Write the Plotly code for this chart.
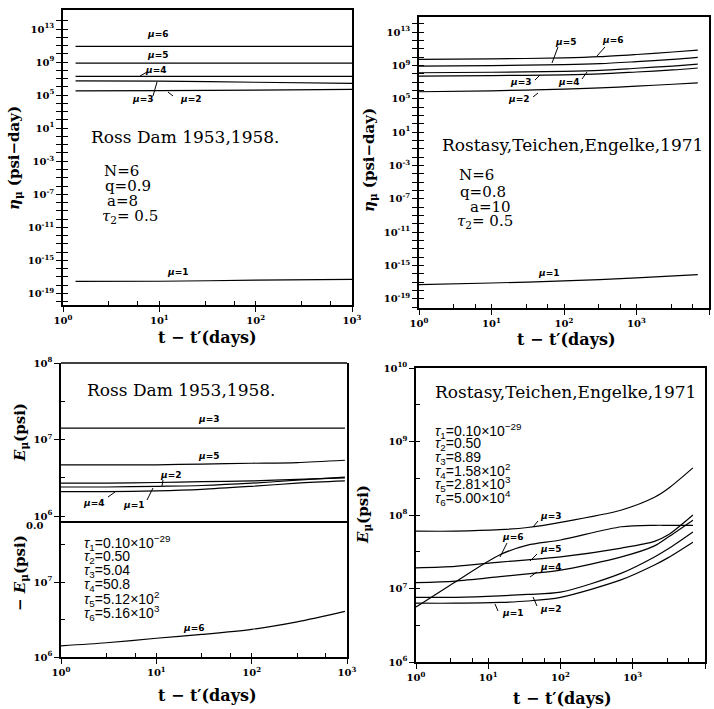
import plotly.graph_objects as go

W, H = 714, 709

# ---------------- DATA ----------------
# Top-left: Ross Dam, eta_mu (psi-day)
tl_t = [1.35, 10, 100, 1000]
tl_eta_mu1 = [2.8e-18, 3.0e-18, 4.0e-18, 5.0e-18]
tl_eta_mu2 = [3.2e5, 3.4e5, 4.0e5, 5.0e5]
tl_eta_mu3 = [5.4e6, 4.8e6, 3.6e6, 2.6e6]
tl_eta_mu4 = [1.9e7, 1.9e7, 1.9e7, 1.9e7]
tl_eta_mu5 = [7.5e8, 7.5e8, 7.5e8, 7.5e8]
tl_eta_mu6 = [8.0e10, 8.0e10, 8.0e10, 8.0e10]

# Top-right: Rostasy, Teichen, Engelke 1971, eta_mu (psi-day)
tr_t = [1, 10, 100, 316, 1000, 3160, 7000]
tr_eta_mu2 = [6.8e5, 8.9e5, 1.4e6, 2.0e6, 3.2e6, 5.4e6, 8.1e6]
tr_eta_mu3 = [5.2e7, 5.9e7, 7.4e7, 9.5e7, 1.6e8, 2.8e8, 4.8e8]
tr_eta_mu4 = [1.3e8, 1.5e8, 1.9e8, 2.5e8, 4.5e8, 8.3e8, 1.4e9]
tr_eta_mu5 = [8.3e8, 9.5e8, 1.2e9, 1.6e9, 2.8e9, 5.2e9, 9.1e9]
tr_eta_mu6 = [5.2e9, 6.0e9, 7.9e9, 1.1e10, 2.0e10, 4.0e10, 6.9e10]
tr_t1 = [1, 10, 100, 1000, 7000]
tr_eta_mu1 = [5.0e-18, 7.9e-18, 1.4e-17, 3.2e-17, 7.9e-17]

# Bottom-left: Ross Dam, E_mu (psi) and -E_mu (psi)
bl_t = [1, 3, 10, 30, 100, 300, 950]
bl_E_mu1 = [2.09e6, 2.09e6, 2.14e6, 2.24e6, 2.45e6, 2.69e6, 2.88e6]
bl_E_mu2 = [2.69e6, 2.69e6, 2.75e6, 2.82e6, 2.88e6, 3.02e6, 3.16e6]
bl_E_mu3 = [1.41e7, 1.41e7, 1.41e7, 1.41e7, 1.41e7, 1.41e7, 1.41e7]
bl_E_mu4 = [2.40e6, 2.40e6, 2.45e6, 2.51e6, 2.69e6, 2.95e6, 3.24e6]
bl_E_mu5 = [4.68e6, 4.68e6, 4.68e6, 4.79e6, 4.90e6, 5.01e6, 5.37e6]
bl_negE_mu6 = [1.41e6, 1.55e6, 1.78e6, 2.0e6, 2.34e6, 2.95e6, 4.07e6]

# Bottom-right: Rostasy, E_mu (psi)
br_t = [1, 3.5, 14.5, 35, 100, 700, 2000, 3100, 6800]
br_E_mu1 = [6.31e6, 6.31e6, 6.46e6, 6.76e6, 7.59e6, 1.32e7, 2.09e7, 2.63e7, 4.27e7]
br_E_mu2 = [7.59e6, 7.59e6, 7.94e6, 8.32e6, 8.91e6, 1.62e7, 2.69e7, 3.47e7, 5.89e7]
br_E_mu3 = [6.03e7, 6.03e7, 6.31e7, 6.76e7, 7.94e7, 1.17e8, 1.74e8, 2.29e8, 4.37e8]
br_E_mu4 = [1.20e7, 1.26e7, 1.45e7, 1.58e7, 1.78e7, 2.69e7, 3.80e7, 5.01e7, 8.51e7]
br_E_mu5 = [1.91e7, 2.00e7, 2.29e7, 2.45e7, 2.69e7, 3.55e7, 4.37e7, 5.37e7, 1.00e8]
br_E_mu6 = [5.6e6, 1.23e7, 2.88e7, 3.89e7, 4.57e7, 6.92e7, 7.24e7, 7.24e7, 7.24e7]

# Tick labels
eta_labels = {-19: "10<sup>-19</sup>", -15: "10<sup>-15</sup>", -11: "10<sup>-11</sup>",
              -7: "10<sup>-7</sup>", -3: "10<sup>-3</sup>", 1: "10<sup>1</sup>",
              5: "10<sup>5</sup>", 9: "10<sup>9</sup>", 13: "10<sup>13</sup>"}
t3_tickvals = [1, 10, 100, 1000]
t3_ticktext = ["10<sup>0</sup>", "10<sup>1</sup>", "10<sup>2</sup>", "10<sup>3</sup>"]
t4_tickvals = [1, 10, 100, 1000, 10000]
t4_ticktext = ["10<sup>0</sup>", "10<sup>1</sup>", "10<sup>2</sup>", "10<sup>3</sup>", "10<sup>4</sup>"]

# ---------------- FIGURE ----------------
def px(x):
    return x / W

def py(y):
    return 1 - y / H

LINE = dict(color="black", width=1.2)
fig = go.Figure()

def add(x, y, xa, ya):
    fig.add_trace(go.Scatter(x=x, y=y, xaxis=xa, yaxis=ya, mode="lines",
                             line=dict(shape="spline", smoothing=0.8, **LINE),
                             showlegend=False, hoverinfo="skip"))

for s in [tl_eta_mu1, tl_eta_mu2, tl_eta_mu3, tl_eta_mu4, tl_eta_mu5, tl_eta_mu6]:
    add(tl_t, s, "x", "y")
for s in [tr_eta_mu2, tr_eta_mu3, tr_eta_mu4, tr_eta_mu5, tr_eta_mu6]:
    add(tr_t, s, "x2", "y2")
add(tr_t1, tr_eta_mu1, "x2", "y2")
for s in [bl_E_mu1, bl_E_mu2, bl_E_mu3, bl_E_mu4, bl_E_mu5]:
    add(bl_t, s, "x3", "y3")
add(bl_t, bl_negE_mu6, "x3", "y4")
for s in [br_E_mu1, br_E_mu2, br_E_mu3, br_E_mu4, br_E_mu5, br_E_mu6]:
    add(br_t, s, "x4", "y5")

# invisible helper traces so that the inside-tick overlay axes are drawn
for xa, ya in [("x5", "y"), ("x", "y6"), ("x6", "y2"), ("x2", "y7"),
               ("x7", "y4"), ("x3", "y8"), ("x3", "y9"), ("x8", "y5"), ("x4", "y10")]:
    fig.add_trace(go.Scatter(x=[1], y=[1], xaxis=xa, yaxis=ya, mode="lines",
                             showlegend=False, hoverinfo="skip", line=dict(width=0)))

TICKFONT = dict(family="DejaVu Serif", size=10, color="black", weight="bold")

def xaxis(dom, rng, tv, tt, anchor):
    return dict(type="log", domain=dom, range=rng, anchor=anchor, automargin=False,
                tickmode="array", tickvals=tv, ticktext=tt, tickfont=TICKFONT,
                ticks="outside", ticklen=5, tickwidth=1.3, tickcolor="black",
                showline=True, linecolor="black", linewidth=1.5, mirror=True,
                showgrid=False, zeroline=False)

def yaxis(dom, rng, tv, tt, anchor):
    return dict(type="log", domain=dom, range=rng, anchor=anchor, automargin=False,
                tickmode="array", tickvals=tv, ticktext=tt, tickfont=TICKFONT,
                ticks="outside", ticklen=5, tickwidth=1.3, tickcolor="black",
                showline=True, linecolor="black", linewidth=1.5, mirror=True,
                showgrid=False, zeroline=False)

def overlay(over, rng, anchor, tv, ln=4):
    return dict(type="log", overlaying=over, range=rng, anchor=anchor, automargin=False,
                tickmode="array", tickvals=tv, showticklabels=False,
                ticks="inside", ticklen=ln, tickwidth=1.1, tickcolor="black",
                showline=False, showgrid=False, zeroline=False)

eta_vals = [10.0 ** k for k in range(-20, 15)]
eta_text = [eta_labels.get(k, "") for k in range(-20, 15)]
xin3 = [1, 3, 6, 10, 30, 60, 100, 300, 600, 1000]
xin4 = xin3 + [3000, 6000, 10000]
half_dec = [10.0 ** (k / 2) for k in range(10, 21)]

R_TL = [-20.4, 15.3]
R_TR = [-20.1, 14.8]
R_BLU = [5.91, 8.0]
R_BLL = [6.0, 7.79]
R_BR = [6.0, 10.0]

fig.update_layout(
    width=W, height=H, margin=dict(l=0, r=0, t=0, b=0),
    paper_bgcolor="white", plot_bgcolor="white",
    xaxis=xaxis([px(63), px(352)], [0, 3], t3_tickvals, t3_ticktext, "y"),
    yaxis=yaxis([py(305), py(10)], R_TL, eta_vals, eta_text, "x"),
    xaxis2=xaxis([px(419), px(709)], [0, 4], t4_tickvals, t4_ticktext, "y2"),
    yaxis2=yaxis([py(308), py(17)], R_TR, eta_vals, eta_text, "x2"),
    xaxis3=xaxis([px(61), px(347)], [0, 3], t3_tickvals, t3_ticktext, "y4"),
    yaxis3=yaxis([py(523), py(363)], R_BLU, [1e6, 1e7, 1e8],
                 ["10<sup>6</sup>", "10<sup>7</sup>", "10<sup>8</sup>"], "x3"),
    yaxis4=yaxis([py(657), py(523)], R_BLL, [1e6, 1e7],
                 ["10<sup>6</sup>", "10<sup>7</sup>"], "x3"),
    xaxis4=xaxis([px(416), px(705)], [0, 4], t4_tickvals, t4_ticktext, "y5"),
    yaxis5=yaxis([py(662), py(368)], R_BR, [1e6, 1e7, 1e8, 1e9, 1e10],
                 ["10<sup>6</sup>", "10<sup>7</sup>", "10<sup>8</sup>", "10<sup>9</sup>", "10<sup>10</sup>"],
                 "x4"),
    xaxis5=overlay("x", [0, 3], "y", xin3),
    yaxis6=overlay("y", R_TL, "x", eta_vals, 5),
    xaxis6=overlay("x2", [0, 4], "y2", xin4),
    yaxis7=overlay("y2", R_TR, "x2", eta_vals, 5),
    xaxis7=overlay("x3", [0, 3], "y4", xin3),
    yaxis8=overlay("y3", R_BLU, "x3", half_dec, 4),
    yaxis9=overlay("y4", R_BLL, "x3", half_dec, 4),
    xaxis8=overlay("x4", [0, 4], "y5", xin4),
    yaxis10=overlay("y5", R_BR, "x4", half_dec, 4),
)

ann = []

def text(t, x, y, size=15, family="DejaVu Serif", xanchor="center", angle=0, weight="normal"):
    ann.append(dict(text=t, x=px(x), y=py(y), xref="paper", yref="paper", showarrow=False,
                    xanchor=xanchor, yanchor="middle", textangle=angle,
                    font=dict(family=family, size=size, color="black", weight=weight)))

MU = dict(size=9, family="DejaVu Sans", weight="bold")

def mu(n, x, y):
    text("<i>μ</i>=%d" % n, x, y, **MU)

# Top-left
mu(6, 157, 34); mu(5, 157, 55); mu(4, 155, 70); mu(3, 142, 99); mu(2, 190, 99); mu(1, 177, 272)
text("Ross Dam 1953,1958.", 89, 137, size=17, xanchor="left")
text("N=6", 102, 171, xanchor="left")
text("q=0.9", 103, 186, xanchor="left")
text("a=8", 105, 201, xanchor="left")
text("<i>τ</i><sub>2</sub>= 0.5", 100, 217, xanchor="left")
text("<b><i>η</i><sub>μ</sub> (psi−day)</b>", 14, 158, size=15, angle=-90)
text("<b>t − t′(days)</b>", 207, 338, size=16)

# Top-right
mu(5, 565, 42); mu(6, 612, 40); mu(3, 520, 82); mu(4, 568, 82); mu(2, 518, 99); mu(1, 548, 273)
text("Rostasy,Teichen,Engelke,1971", 440, 145, size=17, xanchor="left")
text("N=6", 457, 175, xanchor="left")
text("q=0.8", 458, 192, xanchor="left")
text("a=10", 468, 207, xanchor="left")
text("<i>τ</i><sub>2</sub>= 0.5", 455, 222, xanchor="left")
text("<b><i>η</i><sub>μ</sub> (psi−day)</b>", 369, 160, size=15, angle=-90)
text("<b>t − t′(days)</b>", 566, 340, size=16)

# Bottom-left
text("Ross Dam 1953,1958.", 85, 390, size=17, xanchor="left")
mu(3, 208, 419); mu(5, 208, 456); mu(2, 170, 475); mu(4, 93, 503); mu(1, 133, 505); mu(6, 193, 628)
text("0.0", 45, 525, size=10, family="DejaVu Serif", xanchor="right", weight="bold")
text("<b><i>E</i><sub>μ</sub>(psi)</b>", 20, 433, size=15, angle=-90)
text("<b>− <i>E</i><sub>μ</sub>(psi)</b>", 20, 573, size=15, angle=-90)
bl_tau = ["<i>τ</i><sub>1</sub>=0.10×10<sup>−29</sup>", "<i>τ</i><sub>2</sub>=0.50",
          "<i>τ</i><sub>3</sub>=5.04", "<i>τ</i><sub>4</sub>=50.8",
          "<i>τ</i><sub>5</sub>=5.12×10<sup>2</sup>", "<i>τ</i><sub>6</sub>=5.16×10<sup>3</sup>"]
for i, s in enumerate(bl_tau):
    text(s, 82, 543 + i * 14, size=14, family="Liberation Sans", xanchor="left")
text("<b>t − t′(days)</b>", 207, 695, size=16)

# Bottom-right
text("Rostasy,Teichen,Engelke,1971", 433, 392, size=17, xanchor="left")
br_tau = ["<i>τ</i><sub>1</sub>=0.10×10<sup>−29</sup>", "<i>τ</i><sub>2</sub>=0.50",
          "<i>τ</i><sub>3</sub>=8.89", "<i>τ</i><sub>4</sub>=1.58×10<sup>2</sup>",
          "<i>τ</i><sub>5</sub>=2.81×10<sup>3</sup>", "<i>τ</i><sub>6</sub>=5.00×10<sup>4</sup>"]
for i, s in enumerate(br_tau):
    text(s, 433, 431 + i * 13.3, size=14, family="Liberation Sans", xanchor="left")
mu(3, 550, 516); mu(6, 512, 537); mu(5, 550, 549); mu(4, 550, 567); mu(1, 512, 613); mu(2, 550, 609)
text("<b><i>E</i><sub>μ</sub>(psi)</b>", 363, 515, size=15, angle=-90)
text("<b>t − t′(days)</b>", 562, 698, size=16)

fig.update_layout(annotations=ann)

# leader lines for mu labels, plus the top border of the upper bottom-left section
leaders = [
    (147, 72, 140, 76), (153, 96, 157, 82), (173, 96, 168, 92),
    (558, 47, 552, 63), (605, 47, 597, 56), (535, 80, 540, 75), (582, 79, 587, 72), (533, 97, 538, 93),
    (163, 480, 162, 486), (108, 497, 115, 492), (147, 500, 153, 488),
    (538, 521, 533, 527), (507, 543, 500, 557), (537, 554, 530, 561), (537, 572, 530, 577),
    (498, 611, 495, 604), (537, 606, 533, 597),
]
shapes = [dict(type="line", xref="paper", yref="paper",
               x0=px(a), y0=py(b), x1=px(c), y1=py(d),
               line=dict(color="black", width=1)) for a, b, c, d in leaders]
shapes.append(dict(type="line", xref="x3 domain", yref="y3 domain", x0=0, x1=1, y0=1, y1=1,
                   line=dict(color="black", width=1.5)))
fig.update_layout(shapes=shapes)

fig.write_html("out.html", config={"displayModeBar": False},
               post_script="document.body.style.margin='0px';document.body.style.overflow='hidden';")
